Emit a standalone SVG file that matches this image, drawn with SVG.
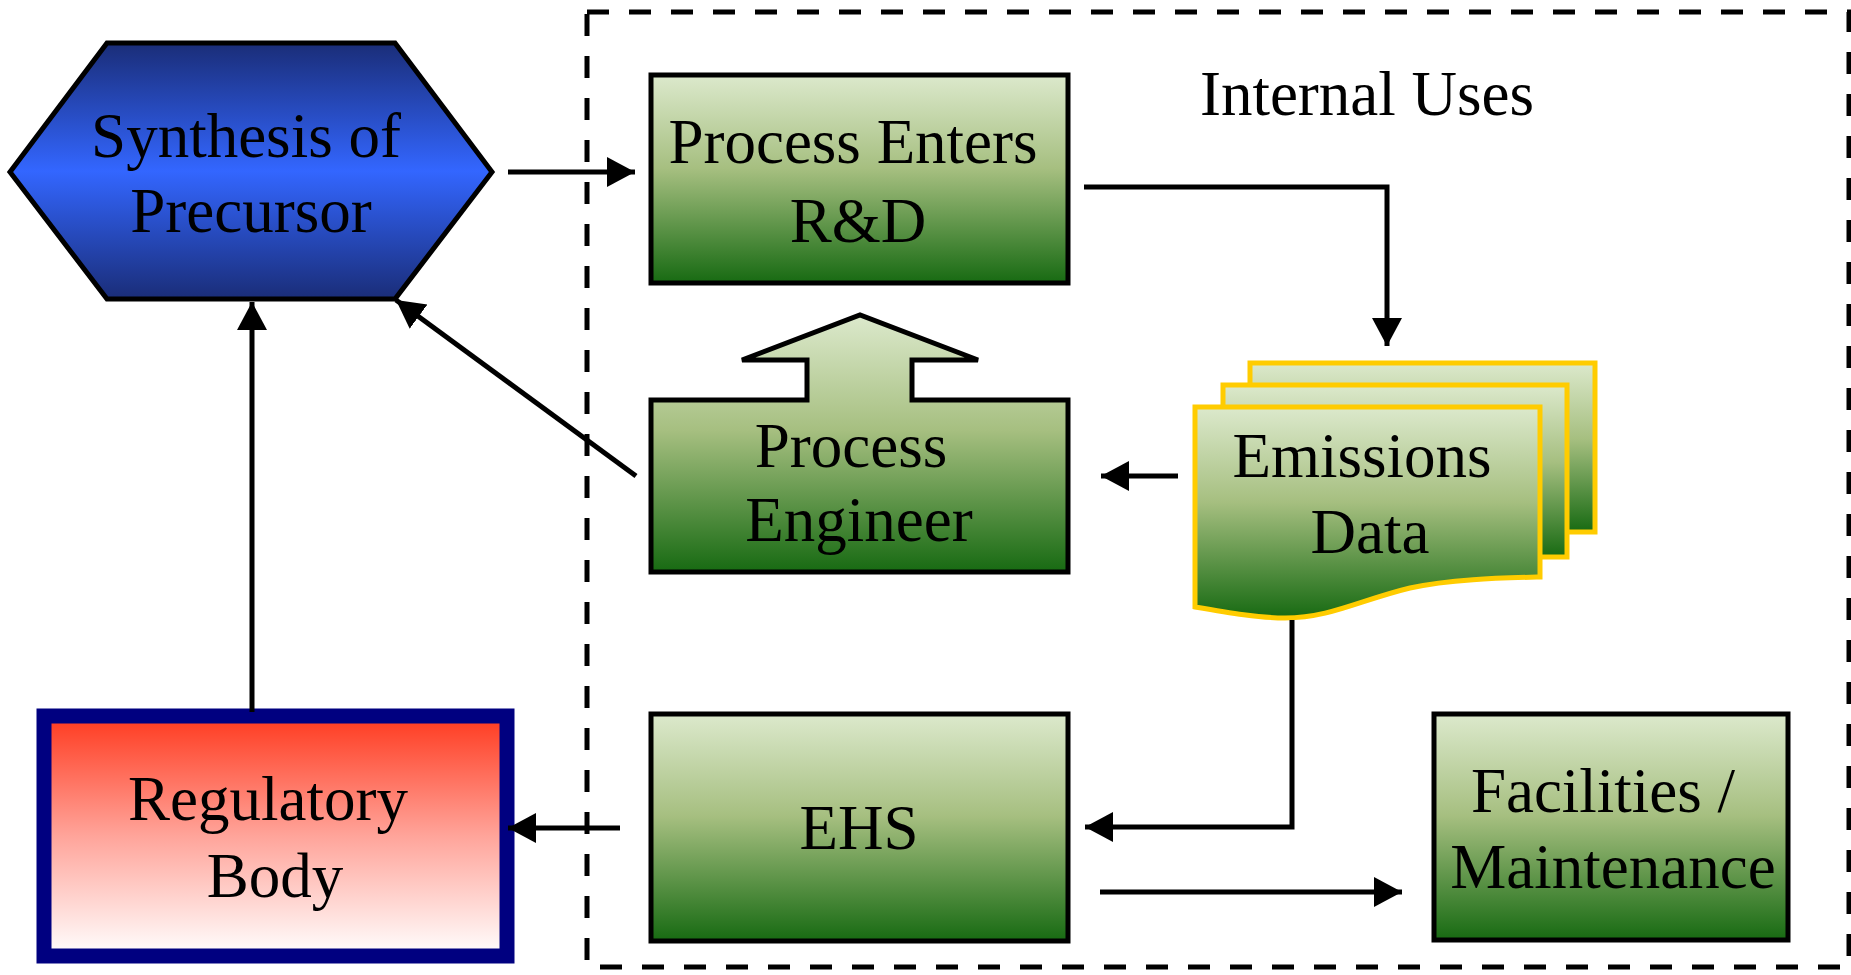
<svg xmlns="http://www.w3.org/2000/svg" width="1851" height="975" viewBox="0 0 1851 975">
<defs>
<linearGradient id="gGreen" x1="0" y1="0" x2="0" y2="1">
<stop offset="0" stop-color="#dce9cc"/>
<stop offset="0.45" stop-color="#a6bf80"/>
<stop offset="1" stop-color="#176a12"/>
</linearGradient>
<linearGradient id="gBlue" x1="0" y1="0" x2="0" y2="1">
<stop offset="0" stop-color="#1a2d78"/>
<stop offset="0.5" stop-color="#3366ff"/>
<stop offset="1" stop-color="#1a2d78"/>
</linearGradient>
<linearGradient id="gRed" x1="0" y1="0" x2="0" y2="1">
<stop offset="0" stop-color="#ff3a1f"/>
<stop offset="0.5" stop-color="#ffa49a"/>
<stop offset="1" stop-color="#ffffff"/>
</linearGradient>
<marker id="arr" markerUnits="userSpaceOnUse" markerWidth="30" markerHeight="32" refX="28" refY="15" orient="auto">
<path d="M0,0 L28,15 L0,30 Z" fill="#000"/>
</marker>
<style>
text{font-family:"Liberation Serif","Times New Roman",serif;font-size:63px;fill:#000;text-anchor:middle}
.box{fill:url(#gGreen);stroke:#000;stroke-width:5}
.page{fill:url(#gGreen);stroke:#ffcc00;stroke-width:5}
.conn{fill:none;stroke:#000;stroke-width:5}
.arr{marker-end:url(#arr)}
</style>
</defs>

<g id="internal-uses">
<rect x="587" y="12" width="1262" height="955" fill="none" stroke="#000" stroke-width="5" stroke-dasharray="22 20"/>
<text x="1367" y="115">Internal Uses</text>
</g>

<g id="synthesis">
<polygon points="107,43 395,43 492,172 395,299 107,299 10,172" fill="url(#gBlue)" stroke="#000" stroke-width="5"/>
<text x="246" y="157">Synthesis of</text>
<text x="251" y="232">Precursor</text>
</g>

<g id="process-enters">
<rect class="box" x="651" y="75" width="417" height="208"/>
<text x="853" y="163">Process Enters</text>
<text x="858" y="242">R&amp;D</text>
</g>

<g id="process-engineer">
<path class="box" d="M651,400 L807,400 L807,360 L742,360 L860,315 L978,360 L912,360 L912,400 L1068,400 L1068,572 L651,572 Z"/>
<text x="851" y="467">Process</text>
<text x="859" y="541">Engineer</text>
</g>

<g id="emissions-data">
<rect class="page" x="1250" y="363" width="345" height="169"/>
<rect class="page" x="1223" y="385" width="344" height="172"/>
<path class="page" d="M1195,407 L1540,407 L1540,577 C1500,578 1450,579 1410,588 C1360,600 1330,618 1285,618 C1260,618 1230,613 1195,607 Z"/>
<text x="1362" y="477">Emissions</text>
<text x="1370" y="553">Data</text>
</g>

<g id="ehs">
<rect class="box" x="651" y="714" width="417" height="227"/>
<text x="859" y="849">EHS</text>
</g>

<g id="facilities">
<rect class="box" x="1434" y="714" width="354" height="226"/>
<text x="1603" y="812">Facilities /</text>
<text x="1613" y="888">Maintenance</text>
</g>

<g id="regulatory">
<rect x="44" y="716" width="463" height="240" fill="url(#gRed)" stroke="#000080" stroke-width="15"/>
<text x="268" y="820">Regulatory</text>
<text x="275" y="897">Body</text>
</g>

<g id="connectors">
<line class="conn arr" x1="508" y1="172" x2="635" y2="172"/>
<polyline class="conn arr" points="1084,187 1387,187 1387,346"/>
<line class="conn arr" x1="1178" y1="476" x2="1101" y2="476"/>
<line class="conn arr" x1="636" y1="476" x2="396" y2="300"/>
<line class="conn arr" x1="252" y1="712" x2="252" y2="302"/>
<line class="conn arr" x1="620" y1="828" x2="508" y2="828"/>
<polyline class="conn arr" points="1292,620 1292,827 1085,827"/>
<line class="conn arr" x1="1100" y1="892" x2="1402" y2="892"/>
</g>
</svg>
